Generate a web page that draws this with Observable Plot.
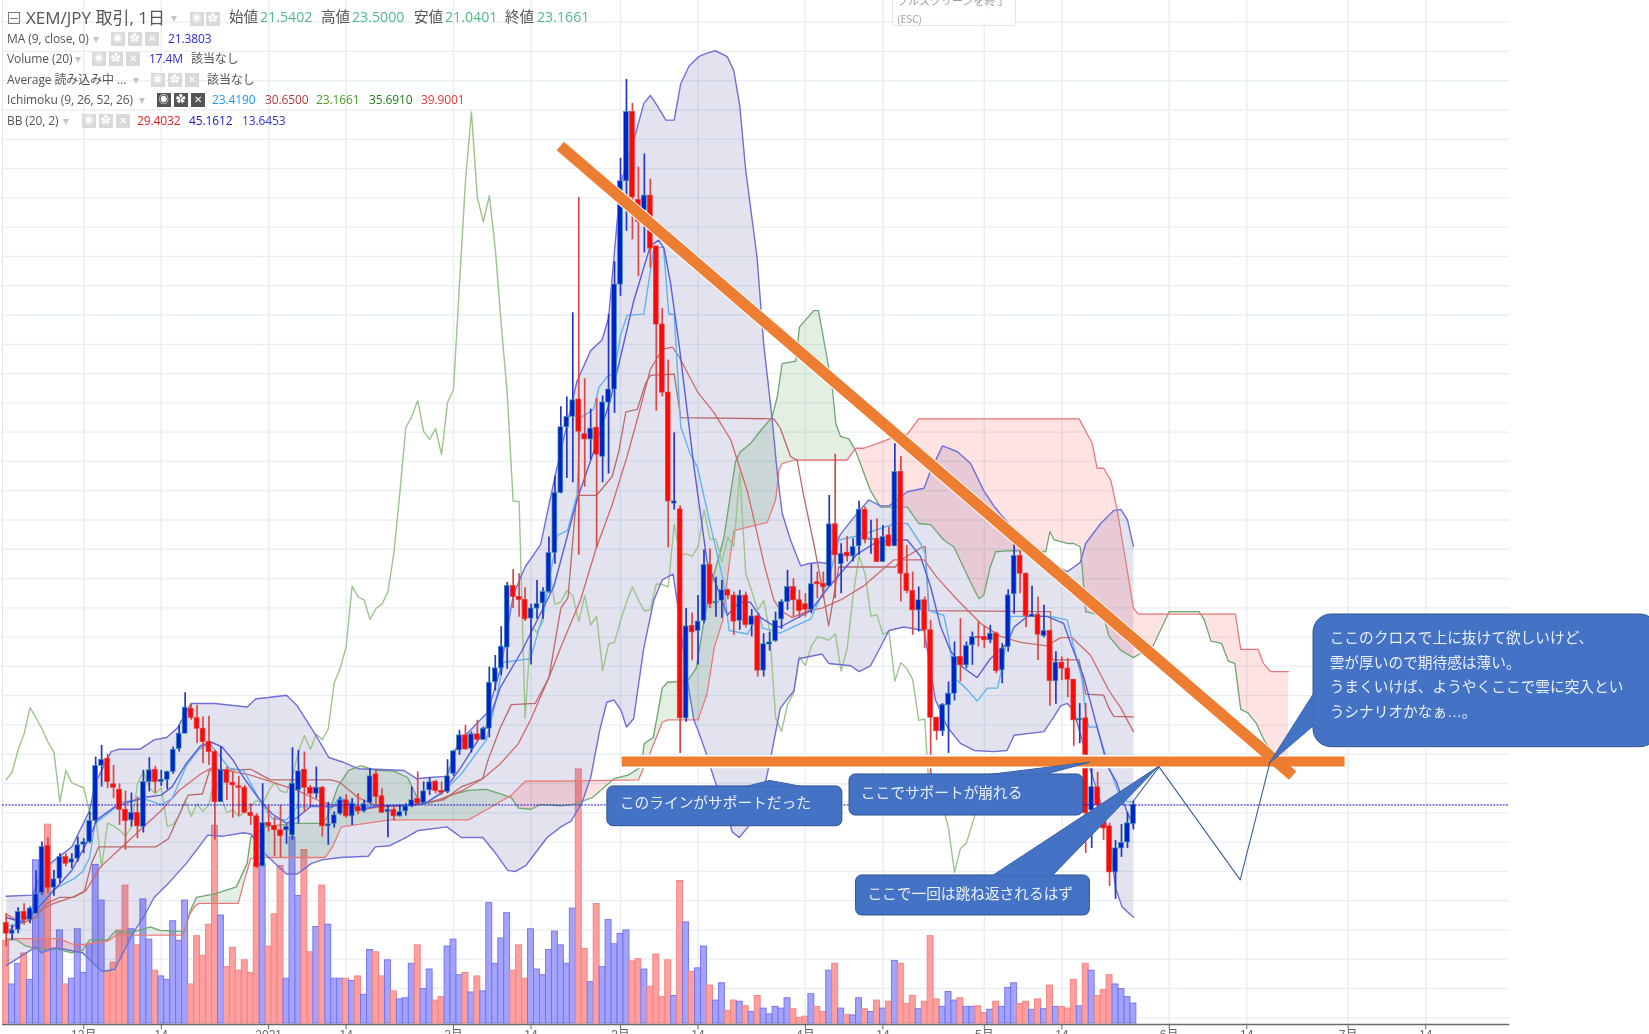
<!DOCTYPE html>
<html lang="ja"><head><meta charset="utf-8">
<script src="https://cdn.jsdelivr.net/npm/d3@7"></script>
<script src="https://cdn.jsdelivr.net/npm/@observablehq/plot@0.6"></script>
<style>
html,body{margin:0;padding:0;background:#fff;overflow:hidden;width:1649px;height:1034px}
#wrap{position:relative;width:1649px;height:1034px;overflow:hidden;filter:blur(.35px)}
#wrap svg{position:absolute;left:0;top:0}
#legend{position:absolute;left:0;top:0;width:100%;height:140px;pointer-events:none;font-family:"Open Sans","Noto Sans CJK JP",sans-serif;color:#555}
#legend span{position:absolute;white-space:nowrap;line-height:1}
.r{font-size:12px;letter-spacing:-.1px}
.ic{width:13.5px;height:13.5px;background:#d9d9d9;color:#fff;font-size:10px;text-align:center;line-height:13.5px!important}
.ic.on{background:#555}
.car{color:#c4c4c4;font-size:12px}
#fs{position:absolute;left:892px;top:-4px;width:122px;height:28px;border:1px solid #e6e6e6;border-radius:3px;background:rgba(255,255,255,.8);color:#a0a0a0;font:10px "Noto Sans CJK JP",sans-serif;overflow:hidden}
#fs div{position:absolute;left:4px;white-space:nowrap}
</style></head><body><div id="wrap"></div>
<script>
const open=[13.13,12.22,12.56,14.06,13.41,13.92,15.68,19.67,16.13,16.9,
18.74,18.26,18.6,19.79,20.01,21.8,26.5,27.1,24.92,24.46,
22.76,21.86,22.48,21.29,25.12,26.16,25.12,25.31,25.97,27.92,
29.23,31.35,30.56,29.65,28.52,27.67,23.4,26.11,25.06,24.75,
24.63,22.48,22.2,17.95,21.63,21.38,21.01,21.01,20.58,24.41,
26.16,24.63,24.12,24.63,21.35,21.57,22.42,23.56,22.2,23,
22.62,23.33,25.77,23.9,22.57,22.76,22.2,22.62,23.05,23.7,
23.33,24.41,25.14,24.35,24.27,25.82,27.81,29.08,27.95,29.17,
28.71,29.65,33.6,34.78,36.55,41.78,40.86,40.61,39.02,39.87,
40.31,41.27,44.59,49.71,55.28,56.17,57.64,54.69,54.25,55.25,
52.78,57.39,58.49,67.42,76.2,82.1,74.61,73.72,74.98,70.66,
64.02,58.23,48.79,48.3,30.53,38.39,37.95,38.83,43.56,40.31,
40.53,41.42,40.97,38.83,40.97,38.47,39.2,34.59,36.81,37.1,
38.95,40.42,41.7,40.57,40.23,39.77,42.1,41.98,41.76,47.03,
43.63,44.62,44.31,45.16,48.27,45.72,45.81,43.82,46.09,45.16,
51.48,42.83,41.36,39.71,40.57,38.02,30.59,29.43,31.64,32.63,
35.75,35.04,36.74,37.45,37.45,37.17,37.73,34.61,36.6,41.08,
44.34,42.83,39.15,39.35,37.53,37.96,33.68,35.27,34.76,33.82,
30.36,30.53,22.7,24.66,21.85,21.34,17.43,19.47,19.98,21.5402];
const high=[13.92,12.93,14.43,14.77,14.49,17.6,20.01,20.38,17.6,19.02,
19.02,19.02,20.44,20.3,22.57,27.24,28.23,27.47,26.53,24.97,
24.35,24.18,23.84,26.11,27.18,26.45,26.11,26.05,28.09,29.93,
32.71,31.72,31.63,30.64,30.7,27.81,28.09,26.39,25.97,25.6,
24.83,23.27,22.42,24.97,23.13,22.14,23.13,21.43,28.03,27.81,
27.67,24.83,26.39,24.75,23.4,22.57,23.84,24.04,23.7,24.12,
23.56,26.25,26.16,24.55,23.13,23.13,23.13,23.27,24.69,25.97,
25.12,25.48,25.26,25.12,27.01,27.81,29.51,29.93,29.37,30.36,
29.79,34.89,35.88,38.32,42.08,43.19,42.82,41.64,40.24,42.26,
41.64,45.95,51.12,57.02,57.86,65.02,74.83,59.41,56.83,57.75,
57.94,64.87,69.37,78.15,84.86,82.83,77.41,78.52,76.38,70.66,
65.39,61,54.8,48.6,39.88,39.5,40.97,44.85,44.96,42.52,
42.26,41.53,41.27,41.42,41.27,39.79,39.32,37.73,37.84,39.57,
40.61,43.12,42.41,41.42,41.13,43.63,42.97,42.97,49.49,52.98,
45.38,46,45.81,49,48.5,47.37,47.51,46.94,46.8,53.89,
52.81,45.24,42.97,41.7,40.85,38.87,30.59,31.78,33.62,37.02,
39.01,37.02,37.87,38.72,38.36,38.44,37.87,36.88,41.47,45.38,
44.96,42.89,41.76,40.85,40.14,38.02,36.2,35.75,35.61,33.82,
31.78,31.8,26.28,25.94,22.7,21.6,20.15,21.51,22.53,23.5];
const low=[11.09,11.65,12.22,12.93,13.07,13.92,15.48,15.62,15.4,16.47,
17.89,17.75,18.31,19.02,19.87,21.57,24.69,24.55,23.7,21.43,
19.31,21.29,20.3,20.78,24.27,24.18,24.75,24.46,25.77,27.67,
29.23,30.36,28.37,26.67,26.53,20.16,23.4,23.56,22.05,22.22,
22.42,21.43,17.75,17.89,20.87,18.8,18.68,19.82,20.16,21.57,
22.57,23,23.7,20.44,19.73,21.2,22.28,22.05,21.43,22.34,
22.51,23.22,23.13,22.42,20.38,21.8,22.14,22.22,22.93,23.22,
23.22,23.98,24.12,23.98,24.12,25.6,27.38,27.81,27.58,28.52,
28.66,28.88,32.86,34.15,34.7,39.87,39.13,38.76,35.07,38.95,
38.95,41.16,43.63,49.64,50.93,50.56,44.4,50.19,52.48,45.03,
50.56,51.3,56.46,66.42,71.95,71.22,68.08,70.11,68.82,56.65,
57.86,45.03,48.24,27.55,30.19,35.44,35.07,38.58,39.87,39.13,
39.05,40.61,37.58,38.02,38.21,37.47,34.04,34.04,36.25,36.99,
38.1,39.71,39.15,39.01,39.15,39.43,40.71,40.71,41.7,40.71,
41.13,43.82,43.82,44.39,45.38,44.48,43.82,43.82,45.1,45.16,
40.42,41.13,37.59,37.87,36.46,25.7,28.66,29,27.55,32.01,
33.62,34.76,35.04,36.6,36.46,36.88,34.33,33.48,36.17,39.38,
41.13,38.24,39.15,35.46,37.39,31.55,31.72,33.76,32.29,28.15,
28.38,19.05,19.47,21.85,20.15,16.24,15.14,18.71,19.47,21.0401];
const close=[12.22,12.5,14.06,13.41,14.35,15.56,19.59,16.13,16.84,18.74,
18.17,18.54,19.73,19.99,21.8,26.48,27.01,25.12,24.63,22.76,
21.8,22.48,21.35,25.12,26.11,25.12,25.31,25.97,27.86,29.23,
31.44,30.56,29.65,28.52,27.67,23.4,26.11,25.06,24.83,24.63,
22.51,22.22,17.89,21.63,21.38,21.01,20.52,21.29,24.97,26.02,
24.63,24.12,24.63,21.35,21.52,22.28,23.56,22.2,23.27,22.62,
23.22,25.6,23.84,22.51,22.76,22.2,22.57,23.05,23.56,23.27,
24.32,25.09,24.35,24.21,25.6,27.72,29.08,27.89,29.17,28.71,
29.65,33.56,34.78,36.62,41.78,40.86,40.61,38.95,39.87,40.24,
41.27,44.59,49.71,55.28,56.17,57.57,54.91,54.25,55.17,52.96,
57.39,58.49,67.42,76.2,82.1,74.83,72.76,74.98,70.48,64.02,
58.23,48.98,48.98,30.53,38.35,37.84,38.76,43.56,40.24,40.42,
41.42,40.97,38.76,40.97,38.47,39.2,34.59,36.84,36.99,38.83,
40.42,41.7,40.57,39.66,39.77,41.93,41.93,41.7,47.03,44.39,
44.53,44.31,45.1,48.27,45.72,45.81,43.82,45.95,45.16,51.48,
42.83,41.36,39.71,40.57,38.02,30.59,29.43,31.69,32.63,35.75,
35.04,36.68,37.45,37.36,37.17,37.73,34.56,36.46,40.99,44.34,
42.83,39.21,39.35,37.65,37.96,33.71,35.27,34.76,33.82,30.36,
30.48,22.45,24.69,23.13,21.17,17.43,19.47,19.92,21.6,23.1661];
const volumeM=[72,34,52,61,38,142,133,173,65,81,
34,39,82,44,68,138,107,45,53,81,
120,82,68,108,73,46,41,38,89,72,
107,34,76,59,86,172,94,49,66,46,
55,44,139,139,67,95,137,39,162,111,
151,62,84,120,86,39,39,39,37,41,
25,64,62,41,55,28,21,22,52,68,
30,47,20,23,67,73,42,44,27,41,
28,105,52,74,96,46,68,39,82,47,
42,64,80,68,52,100,221,65,36,104,
49,90,69,78,81,54,56,47,32,60,
23,55,24,124,88,45,48,67,33,20,
35,11,20,19,15,10,24,13,8,14.5,
13,22,12.5,5,6,25.5,14.5,10,46,52,
13,7.5,7,22,12.5,10,20,13,19,54.5,
52,17,24,12.5,19,76,21,14.5,27.5,20,
22,14.5,14.5,15,9,12,19,14.5,31,35,
17,19,12,21,12.5,33,14.5,14.5,13,38,
15,52,46,24,29,42,34,30,23,17.4];

// polylines as [candle number, price] at their visible corners
const bbUpper=[[0,15.4],[4.4,15.5],[5.9,17.6],[11,19.6],[14,22.7],[14.9,25],[17,27.1],[17.6,27.7],[18.8,27.9],[22.4,27.9],[24.8,28.7],[26.9,28.9],[28.7,29.7],[31,31.8],[35,31.8],[40.4,31.5],[41.9,32.2],[44,32.3],[47,32.5],[48.8,31.6],[51.8,29.2],[54.1,27.2],[56.5,26.8],[59,26.25],[62,26.2],[66.7,26.1],[68.8,25.4],[70.9,25.5],[73.9,25.6],[75.7,28.4],[80.8,31.1],[83,35],[85,41],[87,43.4],[89.6,45.3],[92.1,51.3],[95.7,59.2],[98,61.8],[99.9,62.7],[101,64.6],[103,76],[105.5,80.2],[106.9,82.8],[108,83.5],[109.2,82.6],[110.6,81.4],[112,81.4],[113.1,84.5],[114.5,86],[116.1,86.8],[117.5,87.1],[118.9,87.3],[120.9,86.8],[122,85.6],[123,82.6],[124,77.1],[125.9,69.7],[127,62.4],[128.4,56.1],[129.3,51.3],[130.1,48],[131.5,45.7],[133.2,43.5],[134.6,43.7],[136.5,43.8],[137.4,43.7],[139.9,46.2],[142.1,47.6],[144.6,49.1],[146.6,48.6],[148,48.6],[151.1,49.8],[153.9,50.1],[155,51.6],[157,53.7],[159.5,53.2],[161.7,52.2],[163.9,49.9],[165.6,48.6],[166.7,47.9],[170,46],[174,44],[177.9,43],[180.1,43.8],[181,45.4],[183.5,47.1],[185.7,48.2],[186.9,48.3],[188,47.4],[189,45.1612]];
const bbLower=[[0,9.5],[5,11.1],[5.9,10.6],[8,11],[9.8,10.9],[12.8,10.6],[14.6,9.7],[16.1,9],[18.2,9.2],[21.2,12.2],[23,13.6],[24.8,15.3],[27.2,16.5],[30.2,18.2],[33.8,20.6],[36.2,20.5],[39.8,20.8],[41,20.7],[43.4,19],[45.5,18],[47,17.3],[48.8,17.3],[51.2,18.2],[53,18.5],[56,18.7],[60.7,18.8],[61.9,19.6],[64.3,19.7],[66.7,20.3],[69.1,21],[73.9,21.3],[76.3,20.4],[79.9,20.4],[81.7,19.3],[84.1,17.6],[85.3,17.5],[87.1,18],[90.7,20.4],[93,21.3],[94.7,21.8],[96.5,23.3],[98,25.5],[99.5,29.5],[100.7,31.9],[101.9,32.1],[103.1,31.2],[104,29.8],[105.2,30.5],[106.9,36.5],[108.6,40.6],[110,42.3],[111.8,42.8],[112.8,39.5],[113.9,34.7],[115.3,30.4],[116,29.5],[117.2,27.8],[118.7,25.4],[121.1,22.1],[121.7,20.9],[122.9,20.4],[124.4,21.3],[125.6,23],[127.4,25.3],[128.3,27.5],[129.8,31.4],[132.1,32.9],[132.9,35.6],[136.8,36],[137.9,35.2],[141.6,35],[143,34.5],[144.9,35],[146.6,36.6],[148,38],[150.5,38.3],[153.9,38],[155,34.6],[155.8,32.1],[157.8,29.8],[160,28.4],[162.3,27.8],[165.6,27.7],[167.8,27.8],[169,29.1],[174,29.4],[175.7,30.7],[176.8,31.6],[177.9,31.8],[179,31.2],[181.8,26.1],[183.1,24.1],[184.9,20.7],[186,16.1],[187.1,14.5],[188.8,13.7],[189,13.6453]];
const bbMiddle=[[0,12.4],[5,14.1],[8,14.8],[11,15.3],[13.4,15.9],[15.8,17.9],[19.4,19.6],[23,21.3],[26,22.7],[29,24.4],[32.6,25.8],[34.4,26.3],[38,26],[41,25.7],[44.6,25.1],[48.8,24.4],[53,23.4],[56,23],[60.1,22.8],[62.5,23],[66.7,23.1],[69.1,23.2],[73.3,23.7],[76.9,24.5],[79.9,25.4],[82.9,26.7],[85.9,28.4],[88,30.5],[91,34],[93,36.6],[96.3,40.6],[98.8,44.8],[101.6,48.7],[104.1,52.8],[106.1,56.5],[108,60.2],[110,61.9],[111.7,62.1],[112.8,61.3],[115.9,58.3],[118.7,56.5],[121.5,54.2],[124.3,49.8],[127.1,43.6],[128.7,40.6],[129.8,39.7],[131.8,39.1],[134.6,39.7],[136.8,39.9],[139.9,40.6],[143.8,41.8],[148.8,44],[153.9,44],[156.1,42.5],[159.5,40.6],[163.4,38.6],[166.7,37.5],[170.1,37],[174.5,36.7],[176.8,37.4],[178.7,37.4],[181.8,35.9],[184.9,32.9],[186.9,31.4],[189,29.4032]];
const ma9=[[0,13.6],[2.6,13.2],[4.4,13.9],[8,15.9],[11,17.6],[14,20.4],[15.2,21.9],[18.2,23],[23,23.8],[26,24],[27.8,24.7],[30.2,26.7],[32.6,28.2],[34.4,28.5],[36.2,28.1],[38,27],[39.8,25.5],[42.2,23.8],[44.6,22.4],[47,21.6],[48.8,22.1],[51.2,23.1],[54.7,23],[56.5,23.5],[59.5,22.8],[62.5,23.1],[67.3,23.1],[70.3,23.3],[73.3,24.3],[76.3,26.4],[80.5,29.8],[82.9,33.2],[86.5,36.3],[91.8,41.7],[95.7,49.1],[98.5,53.2],[101.3,57.6],[105.2,66],[108,70.7],[109.4,71.2],[110.3,70.5],[111.4,67.5],[112.8,62.4],[115.3,52],[117.5,43.9],[119.5,41.3],[120.9,39.3],[122.9,40.4],[124.8,40.4],[126.5,39.1],[128.7,38.4],[129.8,38.3],[134.9,39.7],[137.9,41.7],[142.7,44.5],[145.5,45.4],[148.8,45.7],[151.1,45.7],[153.3,44.3],[155,41.7],[156.7,38.3],[158.3,36.3],[160.3,34.9],[162.8,34],[165,35.6],[167.8,36.9],[169,38.3],[171.2,39.2],[174.5,39.2],[177.3,38.6],[178.7,36.6],[180.7,34],[182.9,29.8],[184.7,26.4],[186.1,25.2],[187.9,22.6],[189,21.3803]];
const tenkan=[[0,12.8],[2,13.1],[4.4,14.2],[8,16],[11.4,16.9],[12.8,17.5],[14,18.7],[14.9,21.6],[17,22.4],[19.4,23.4],[23,23.7],[26,23.2],[27.8,23.7],[30.2,26.5],[32.3,27.9],[34.1,28.4],[37.4,26.3],[39.8,26.1],[41,25],[42.8,23.3],[44.6,22],[47,21.9],[48.8,23],[54.7,23],[55.9,23.8],[59.5,23],[62,23.1],[67.3,23.2],[70.3,23.3],[73.3,24.3],[76.3,25.8],[80.5,28.7],[82,31.8],[83.4,35.3],[87.9,35.6],[90.1,39.5],[92.4,46.1],[94.1,46.5],[95.7,49.5],[96.3,56.1],[98.5,56.8],[99.4,58.7],[100.8,59.6],[101.9,59.8],[103,63.1],[104.1,64.8],[106.9,64.9],[108.6,70.5],[110.2,70.6],[111.1,64.9],[112,64.9],[113.1,55.3],[114.7,53],[115.9,51.9],[118.1,46.9],[120.3,42.1],[121.2,38],[124.3,37.7],[126.2,39.5],[126.8,38.2],[129.8,37.8],[134.9,39],[137.9,42.3],[139.6,45.7],[143.2,46.1],[149.1,47.1],[151.1,47.1],[153.3,45.4],[154.1,44.5],[154.7,39.7],[157.2,39.3],[158.1,37.2],[158.9,34],[160.9,33.1],[162.8,32],[164.5,33.1],[166.2,33.1],[167,34.9],[168.4,39.2],[175.1,39.2],[177.9,38.9],[179,36.6],[180.4,33.8],[181,30.9],[181.5,29.8],[182.9,29.8],[184.9,26.4],[186.5,24.2],[187.9,23.45],[189,23.419]];
const kijun=[[0,13.9],[2.6,13.1],[5,13.6],[6.8,14.8],[8.9,15.3],[11.3,15.3],[13.1,15.8],[14.3,18.2],[15.5,19.6],[25.1,19.6],[27.2,20.3],[29.6,23],[30.5,24],[32.9,24.1],[34.1,26.1],[41,26.2],[44.3,25.3],[54.4,25.3],[55.9,25.1],[59,23.8],[62.5,23],[68.5,23.2],[73.3,23.6],[76.3,24.7],[79.9,25.4],[80.8,27],[82.9,29.8],[84.7,31.7],[88.7,31.8],[91,34],[93,39.9],[94.2,40.8],[95.5,48.7],[96,49.5],[99,49.5],[101.6,51.1],[102.7,53.2],[103.9,56.6],[105.8,56.8],[107.2,59],[108,59.7],[112,59.8],[113.1,56.1],[128.7,56],[129.8,55.2],[131.5,52.8],[132.6,52.5],[133.7,49.5],[135.4,45.4],[136.8,41.7],[137.9,38.4],[139.6,43.4],[149.1,43.4],[150,44],[153.6,45.1],[154.1,45.1],[154.7,39.7],[175.1,39.6],[175.4,35.5],[179.9,35.5],[181,32.6],[184,32.5],[184.9,31.4],[185.7,30.7],[189,30.65]];
const senkouA=[[0,11.7],[1.7,11.7],[3.2,11.2],[5,10.9],[8.6,10.9],[11,10.6],[12.8,10.8],[14,11.7],[17,11.7],[18.2,12.4],[21.5,12.4],[24.2,12.8],[25.7,12.5],[29.9,12.4],[30.8,14.1],[31.9,15.3],[35,15.6],[38.6,16.2],[40.4,18.2],[41,20.4],[43.4,21.3],[48.2,21.6],[53,21.6],[53.8,22.1],[55.6,24.7],[57.4,26.1],[59.5,26.5],[62,26.1],[65,26.05],[67.3,25.5],[69.1,23.6],[70.9,23.3],[74.5,24],[77.5,24.4],[80.5,24.5],[82.9,24.1],[84.7,23.8],[85.9,22.9],[88,22.8],[89.5,23.2],[93,23.1],[95,23.2],[98.3,23.8],[101.9,25.4],[104.3,25.7],[106.4,26.4],[107,28.4],[108.5,28.9],[110,33.1],[110.9,33.6],[114.2,33.7],[115.7,34.8],[117,38.8],[118.1,41.7],[120.3,45.8],[122.3,52.4],[123.1,53.2],[124.8,53.9],[126.8,55.2],[128.4,56.1],[129.3,57.9],[130.1,60.7],[132.4,60.9],[133,63.8],[135.4,65.2],[136.2,65.2],[138.5,58.7],[139.1,55.6],[139.9,54.5],[141.3,54.3],[142.4,53.3],[144.9,49.9],[146.6,48.5],[151.1,48.5],[153,47.1],[155,47],[157.2,45.7],[158.9,45.1],[161.7,42.1],[163.1,40.7],[163.9,41],[165,43.4],[165.9,44.7],[168.4,44.8],[174.3,44.7],[175,46.4],[175.7,45.7],[177.9,45.4],[179,45.4],[180.1,45.1],[180.4,43.4],[181,39.6],[182.7,39.4],[184,39.2],[184.9,37.5],[186.9,36.3],[189,35.691],[190,36],[192.3,36.7],[195,39.6],[200,39.6],[200.9,38.9],[202,37.1],[203.8,36.9],[204.9,35.4],[206,35.2],[207,31.3],[208.2,31],[209.6,30.1],[210.8,28.8],[212.3,27.5],[213.7,26.9],[215,26.7]];
const senkouB=[[0,11.8],[5,11.8],[8.9,11.8],[11.3,11.3],[13.1,11.3],[17,11.6],[18.5,12.1],[29.6,12.1],[30.8,13.9],[31.7,14.6],[32.3,14.8],[38.9,14.8],[39.8,16.5],[41,18.6],[43.4,18.7],[53.5,18.7],[54.7,19.6],[56.2,21.3],[64.3,21.9],[77.5,21.9],[81.7,23.1],[84.7,24],[87.1,25.2],[93,25.2],[106,25.3],[107.9,27.5],[110,30.2],[110.9,30.4],[116,30.4],[117.5,32.6],[118.7,36.5],[120.1,38.8],[121.2,43.6],[122,46.5],[127.6,47.2],[129,49.1],[129.6,51.7],[130.1,52.2],[132.1,52.5],[141,52.5],[142.4,53.5],[143.8,53.5],[146.6,54],[148.6,54.4],[151.1,54.7],[153,56],[179.9,56],[182.1,53.9],[182.9,51.8],[184,51.8],[185.2,50.8],[186.3,48.2],[189,39.9001],[189.8,39.4],[206.1,39.4],[207,36.4],[209.9,36.4],[210.8,35.2],[212,34.5],[215,34.5]];

// time axis: candle number of the 1st and 14th of each month
const tickDays=[13,26,44,57,75,88,103,116,134,147,164,177,195,208,225,238];
const tickLabels=["12月","14","2021","14","2月","14","3月","14","4月","14","5月","14","6月","14","7月","14"];
const gridPrices=d3.range(-7,28).map(k=>22.5+2.49*k);
const lastPrice=23.1661;
const axisFloor=4.5, plotLeftDay=-0.62, plotRightDay=252.1;
const volumeFloor=4.58, volumePerPriceUnit=10.23;

// annotations, in chart units
const supportLine=[[103.2,26.86],[224.4,26.86]];
const trendLine=[[92.9,79.2],[215.7,25.67]];
const scenario=[[189,23.5],[193.3,26.4],[206.9,16.8],[211.9,26.8]];
const boxes=[
 {d1:100.8,d2:140.2,p1:21.36,p2:24.74,rx:6,tail:[[124.1,24.74],[128,25.25],[133.4,24.74]]},
 {d1:141.4,d2:180.6,p1:22.27,p2:25.76,rx:6,tail:[[164.8,25.76],[181.6,26.8],[174.1,25.76]]},
 {d1:142.5,d2:181.7,p1:13.77,p2:17.17,rx:6,tail:[[165.4,17.17],[193.2,26.44],[175.4,17.17]]},
 {d1:219.2,d2:277,p1:28.08,p2:39.36,rx:18,tail:[[219.2,32.64],[211.8,26.72],[219.2,29.92]]}
];
const notes=[
 {d:102.9,p:23.29,t:"このラインがサポートだった"},
 {d:143.3,p:24.17,t:"ここでサポートが崩れる"},
 {d:144.4,p:15.61,t:"ここで一回は跳ね返されるはず"},
 {d:221.9,p:37.38,t:"ここのクロスで上に抜けて欲しいけど、"},
 {d:221.9,p:35.25,t:"雲が厚いので期待感は薄い。"},
 {d:221.9,p:33.18,t:"うまくいけば、ようやくここで雲に突入とい"},
 {d:221.9,p:31.03,t:"うシナリオかなぁ…。"}
];

const pts=a=>a.map(([d,p])=>({d,p}));
const candles=open.map((o,i)=>({i,o,h:high[i],l:low[i],c:close[i],v:volumeM[i],up:close[i]>=o}));
const chikou=close.slice(26).map((c,i)=>({d:i,p:c}));
const bbBand=pts(bbUpper.concat(bbLower.slice().reverse()));
const at=(s,d)=>{const j=d3.bisector(v=>v[0]).right(s,d);if(j<=0)return s[0][1];if(j>=s.length)return s[s.length-1][1];const [x0,y0]=s[j-1],[x1,y1]=s[j];return y0+(y1-y0)*(d-x0)/(x1-x0)};
const cloudEdge=d3.range(0,215.01,0.25).map(d=>({d,a:at(senkouA,d),b:at(senkouB,d)}));
const ln=(a,stroke,w=1.3,o=1)=>Plot.line(pts(a),{x:"d",y:"p",stroke,strokeWidth:w,strokeOpacity:o,curve:"linear"});
const FONT='"Liberation Sans","Noto Sans CJK JP",sans-serif';

const chart=Plot.plot({
 width:1649,height:1034,margin:0,
 style:{background:"transparent",overflow:"hidden"},
 x:{type:"linear",domain:[-0.956,275.53],range:[0,1649],axis:null},
 y:{type:"linear",domain:[3.648,91.573],range:[1034,0],axis:null},
 marks:[
  Plot.ruleY(gridPrices,{x1:plotLeftDay,x2:plotRightDay,stroke:"#e7eff3",strokeWidth:1.3}),
  Plot.ruleX(tickDays,{y1:axisFloor,y2:91.573,stroke:"#e7eff3",strokeWidth:1.5}),
  Plot.ruleX([plotLeftDay],{y1:axisFloor,y2:91.573,stroke:"#dfe5e8",strokeWidth:1}),
  // volume
  Plot.rect(candles,{x1:d=>d.i-.5,x2:d=>d.i+.5,y1:volumeFloor,y2:d=>volumeFloor+d.v/volumePerPriceUnit,fill:d=>d.up?"#a3a3fb":"#fd9f9f",stroke:d=>d.up?"#7272ec":"#f28080",strokeWidth:.9}),
  // Bollinger band
  Plot.line(bbBand,{x:"d",y:"p",fill:"rgba(60,60,140,0.14)",stroke:"none"}),
  // Ichimoku cloud
  Plot.areaY(cloudEdge,{x:"d",y1:"b",y2:d=>Math.max(d.a,d.b),fill:"rgba(60,140,60,0.14)"}),
  Plot.areaY(cloudEdge,{x:"d",y1:"a",y2:d=>Math.max(d.a,d.b),fill:"rgba(255,60,60,0.15)"}),
  ln(senkouA,"#6fa66f"),
  ln(senkouB,"#e67a7a"),
  Plot.line(chikou,{x:"d",y:"p",stroke:"#9cc48c",strokeWidth:1.4}),
  ln(bbUpper,"#6f6fd6",1.4),
  ln(bbLower,"#6f6fd6",1.4),
  ln(bbMiddle,"#cf6a6a",1.3),
  ln(kijun,"#b86a6a",1.3),
  ln(tenkan,"#63b3ee",1.4),
  ln(ma9,"#5a5fd8",1.4),
  // candles
  Plot.ruleX(candles,{x:"i",y1:"l",y2:"h",stroke:d=>d.up?"#2436c4":"#db4747",strokeWidth:1.7}),
  Plot.rect(candles,{x1:d=>d.i-.4,x2:d=>d.i+.4,y1:"o",y2:"c",fill:d=>d.up?"#0022cc":"#fb0a0a",stroke:d=>d.up?"#3f9aa8":"#ec3a3a",strokeWidth:.7}),
  // current price and axis
  Plot.ruleY([lastPrice],{x1:plotLeftDay,x2:plotRightDay,stroke:"#1414c8",strokeWidth:1,strokeDasharray:"2 1.2"}),
  Plot.ruleY([axisFloor],{x1:plotLeftDay,x2:plotRightDay,stroke:"#6a6a6a",strokeWidth:1.5}),
  Plot.ruleX(tickDays,{y1:axisFloor,y2:4.05,stroke:"#6a6a6a",strokeWidth:1}),
  Plot.text(tickDays,{x:d=>d,y:4.02,text:(d,i)=>tickLabels[i],lineAnchor:"top",fill:"#666",fontSize:12,fontFamily:FONT}),
  // drawn annotations
  ...[[supportLine,13.5,"#fff"],[trendLine,13.2,"#fff"],[supportLine,10,"#ed7d31"],[trendLine,11.2,"#ed7d31"]].map(([a,w,s])=>Plot.line(pts(a),{x:"d",y:"p",stroke:s,strokeWidth:w,strokeLinecap:"butt"})),
  Plot.line(pts(scenario),{x:"d",y:"p",stroke:"#3d5f94",strokeWidth:1.1}),
  ...boxes.map(b=>Plot.line(pts(b.tail),{x:"d",y:"p",fill:"#4472c4",stroke:"#2f528f",strokeWidth:1})),
  Plot.rect(boxes,{x1:"d1",x2:"d2",y1:"p1",y2:"p2",rx:6,fill:"#4472c4",stroke:"#2f528f",strokeWidth:1,filter:b=>b.rx===6}),
  Plot.rect(boxes,{x1:"d1",x2:"d2",y1:"p1",y2:"p2",rx:18,fill:"#4472c4",stroke:"#2f528f",strokeWidth:1,filter:b=>b.rx===18}),
  ...boxes.map(b=>Plot.line(pts(b.tail),{x:"d",y:"p",fill:"#4472c4",stroke:"none"})),
  Plot.text(notes,{x:"d",y:"p",text:"t",textAnchor:"start",fill:"#eaf0fa",fontSize:14.7,fontFamily:FONT})
 ]
});
const wrap=document.getElementById("wrap");
wrap.appendChild(chart);

// chart header
const headerOHLC=[["始値",229,"21.5402",260],["高値",321,"23.5000",352],["安値",414,"21.0401",445],["終値",505,"23.1661",537]];
const studyRows=[
 {name:"MA (9, close, 0)",y:33,caret:97,icon:111,on:false,vals:[["21.3803",168,"#2b2bd0"]]},
 {name:"Volume (20)",y:53,caret:79,icon:92,on:false,vals:[["17.4M",149,"#2b2bd0"],["該当なし",191,"#555"]]},
 {name:"Average 読み込み中 …",y:74,caret:137,icon:151,on:false,vals:[["該当なし",207,"#555"]]},
 {name:"Ichimoku (9, 26, 52, 26)",y:94,caret:143,icon:157,on:true,vals:[["23.4190",212,"#2196f3"],["30.6500",265,"#b23a3a"],["23.1661",316,"#4c9a2a"],["35.6910",369,"#1e7b1e"],["39.9001",421,"#e53935"]]},
 {name:"BB (20, 2)",y:115,caret:67,icon:82,on:false,vals:[["29.4032",137,"#e01f1f"],["45.1612",189,"#2020c0"],["13.6453",242,"#3535c8"]]}
];
const leg=document.createElement("div");leg.id="legend";
const add=(txt,x,y,st="",cls="")=>{const s=document.createElement("span");s.textContent=txt;s.style.cssText=`left:${x}px;top:${y}px;${st}`;if(cls)s.className=cls;leg.appendChild(s)};
add("",8,12,"width:10px;height:10px;border:1px solid #777");
add("",10,17.5,"width:8px;height:1px;background:#777");
add("XEM/JPY 取引, 1日",26,9,"font-size:17px;color:#555");
add("▾",171,12,"","car");
["◉","✿"].forEach((g,k)=>add(g,190+k*16,12,"","ic"));
headerOHLC.forEach(([l,x,v,vx])=>{add(l,x,10,"font-size:14.5px;color:#555");add(v,vx,10,"font-size:14.2px;color:#53b987")});
studyRows.forEach(r=>{
 add(r.name,7,r.y,"","r");
 add("▾",r.caret-4,r.y,"","car");
 ["◉","✿","✕"].forEach((g,k)=>add(g,r.icon+k*17,r.y-1,"","ic"+(r.on?" on":"")));
 r.vals.forEach(([t,x,c])=>add(t,x,r.y,`color:${c}`,"r"));
});
wrap.appendChild(leg);
const fs=document.createElement("div");fs.id="fs";fs.innerHTML='<div style="top:-5px;font-size:11px">フルスクリーンを終了</div><div style="top:14px">(ESC)</div>';
wrap.appendChild(fs);
</script></body></html>
